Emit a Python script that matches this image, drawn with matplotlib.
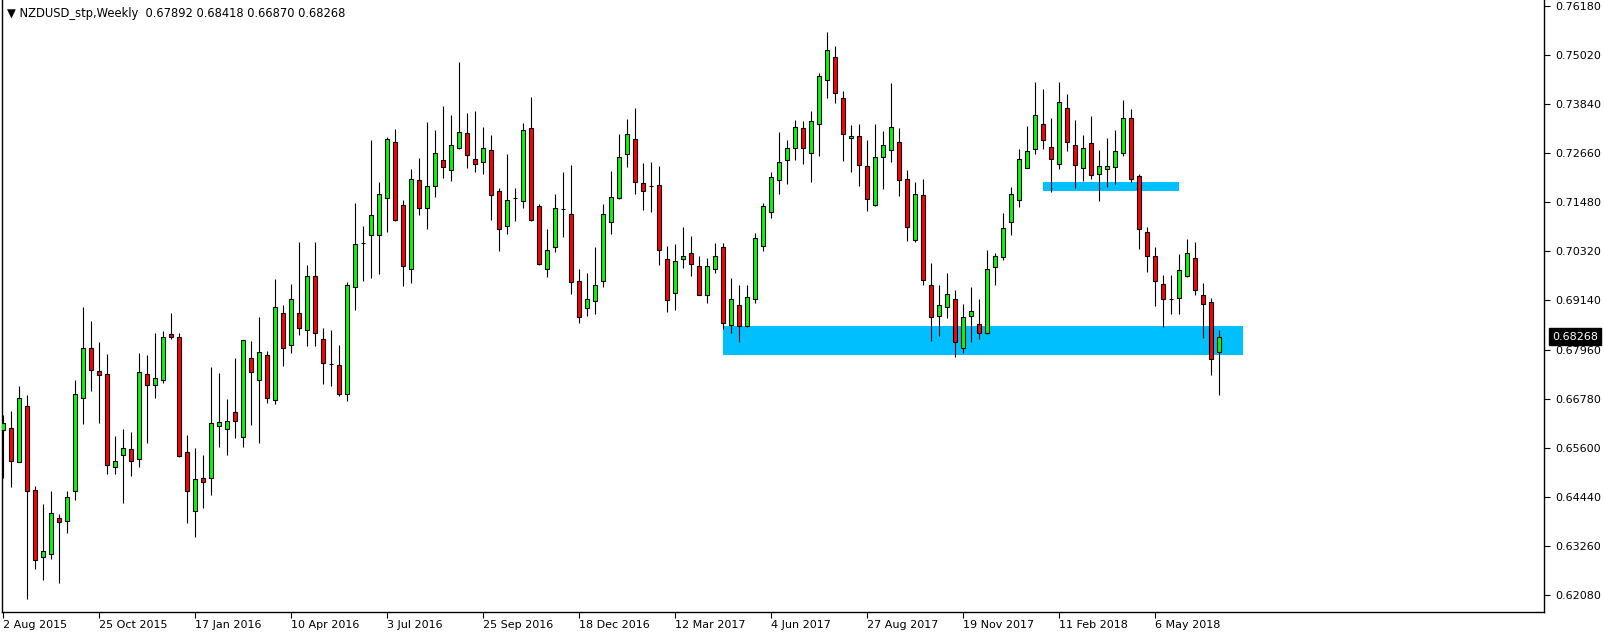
import matplotlib
matplotlib.use('Agg')
import matplotlib.pyplot as plt
import matplotlib.transforms as mtransforms
from matplotlib.patches import Rectangle
import numpy as np

# Dados semanais NZDUSD (abertura, maxima, minima, fechamento), de 2 Aug 2015 em diante
abertura = [
    0.66042, 0.66087, 0.65276, 0.66619, 0.64609, 0.63004, 0.63068, 0.63933, 0.63861, 0.64582,
    0.66790, 0.68007, 0.67457, 0.67385, 0.65150, 0.65447, 0.65591, 0.65348, 0.67385, 0.67123,
    0.67241, 0.68322, 0.68268, 0.65519, 0.64104, 0.64888, 0.64888, 0.66141, 0.66069, 0.66475,
    0.65871, 0.67763, 0.67223, 0.67835, 0.66763, 0.68827, 0.68061, 0.68845, 0.68439, 0.69728,
    0.68223, 0.67619, 0.67601, 0.66907, 0.69449, 0.70512, 0.70711, 0.70693, 0.71576, 0.72919,
    0.71414, 0.69900, 0.72027, 0.71342, 0.71864, 0.72486, 0.72252, 0.72775, 0.73135, 0.72513,
    0.72441, 0.72730, 0.71765, 0.70909, 0.71576, 0.71504, 0.73252, 0.71387, 0.69881, 0.70422,
    0.71315, 0.71215, 0.69611, 0.68944, 0.69133, 0.69593, 0.71008, 0.71576, 0.72630, 0.72991,
    0.71954, 0.71882, 0.71909, 0.70134, 0.69314, 0.70116, 0.70260, 0.69972, 0.69278, 0.69900,
    0.70404, 0.68556, 0.69016, 0.68529, 0.69178, 0.70449, 0.71242, 0.72009, 0.72486, 0.72775,
    0.73252, 0.72675, 0.73351, 0.74406, 0.74956, 0.73991, 0.73018, 0.73081, 0.72342, 0.71432,
    0.72558, 0.72730, 0.72919, 0.72054, 0.70593, 0.71648, 0.69494, 0.68755, 0.68989, 0.69178,
    0.67989, 0.68755, 0.68583, 0.68349, 0.69945, 0.70170, 0.71017, 0.71531, 0.72315, 0.72757,
    0.73369, 0.72820, 0.72396, 0.73730, 0.72865, 0.72297, 0.72892, 0.72153, 0.72270, 0.72324,
    0.72675, 0.73514, 0.72126, 0.70783, 0.70188, 0.69539, 0.69160, 0.69196, 0.69710, 0.70161,
    0.69278, 0.69097, 0.67892,
]
maxima = [
    0.66384, 0.66502, 0.67078, 0.66862, 0.64690, 0.64257, 0.64564, 0.64014, 0.64564, 0.67223,
    0.68971, 0.68638, 0.68133, 0.67844, 0.65880, 0.66051, 0.65979, 0.67871, 0.67826, 0.68349,
    0.68412, 0.68827, 0.68349, 0.65907, 0.65600, 0.65429, 0.67538, 0.67394, 0.66772, 0.67754,
    0.68196, 0.68160, 0.68737, 0.67917, 0.69647, 0.69025, 0.69521, 0.70530, 0.69981, 0.70530,
    0.68466, 0.68421, 0.68061, 0.69584, 0.71468, 0.70918, 0.72973, 0.71963, 0.73045, 0.73234,
    0.71540, 0.72279, 0.72540, 0.73406, 0.73216, 0.73784, 0.73577, 0.74839, 0.73622, 0.73667,
    0.73288, 0.73090, 0.71819, 0.72639, 0.71828, 0.73378, 0.74000, 0.71441, 0.70846, 0.71684,
    0.72207, 0.72378, 0.69881, 0.69791, 0.70413, 0.71441, 0.72234, 0.73117, 0.73478, 0.73739,
    0.72423, 0.72450, 0.72351, 0.70431, 0.70485, 0.70891, 0.70675, 0.70206, 0.70143, 0.70503,
    0.70503, 0.69665, 0.69503, 0.69503, 0.70747, 0.71459, 0.72198, 0.73162, 0.72964, 0.73451,
    0.73433, 0.73667, 0.74577, 0.75560, 0.75226, 0.74145, 0.73333, 0.73360, 0.72973, 0.73360,
    0.73189, 0.74343, 0.73261, 0.72252, 0.71963, 0.72036, 0.70026, 0.69503, 0.69791, 0.69377,
    0.69043, 0.69449, 0.69169, 0.70341, 0.70260, 0.71224, 0.71846, 0.72757, 0.73306, 0.74361,
    0.74199, 0.73505, 0.74361, 0.74072, 0.73451, 0.73090, 0.73550, 0.72739, 0.73018, 0.73216,
    0.73928, 0.73712, 0.72171, 0.70891, 0.70413, 0.69737, 0.69737, 0.70242, 0.70602, 0.70530,
    0.69548, 0.69205, 0.68418,
]
minima = [
    0.64897, 0.64672, 0.65260, 0.61995, 0.62716, 0.62446, 0.62959, 0.62374, 0.63572, 0.64356,
    0.66177, 0.66970, 0.66204, 0.64978, 0.64978, 0.64284, 0.64924, 0.65150, 0.65726, 0.66799,
    0.67159, 0.68223, 0.65393, 0.63807, 0.63473, 0.64167, 0.64483, 0.65627, 0.65438, 0.65844,
    0.65627, 0.66159, 0.65726, 0.66682, 0.66655, 0.67565, 0.67880, 0.68313, 0.68052, 0.68052,
    0.67141, 0.67087, 0.66853, 0.66727, 0.68908, 0.69602, 0.69665, 0.69773, 0.70783, 0.71044,
    0.69485, 0.69557, 0.71188, 0.70855, 0.71621, 0.72072, 0.72000, 0.72765, 0.72315, 0.72216,
    0.72171, 0.71062, 0.70323, 0.70729, 0.71044, 0.71350, 0.71040, 0.69990, 0.69701, 0.70296,
    0.70657, 0.69296, 0.68601, 0.68764, 0.68818, 0.69458, 0.70729, 0.71566, 0.72333, 0.71684,
    0.71297, 0.71251, 0.69981, 0.68854, 0.68908, 0.69917, 0.69719, 0.69270, 0.69070, 0.69791,
    0.68448, 0.68349, 0.68133, 0.68502, 0.69079, 0.70323, 0.71116, 0.71693, 0.71927, 0.72504,
    0.72405, 0.71972, 0.72603, 0.73991, 0.73865, 0.72477, 0.72216, 0.71882, 0.71278, 0.71405,
    0.71810, 0.72459, 0.71639, 0.70566, 0.70539, 0.69512, 0.68169, 0.68286, 0.68719, 0.67790,
    0.67880, 0.68142, 0.68214, 0.68340, 0.69512, 0.70098, 0.70711, 0.71378, 0.72306, 0.72648,
    0.72766, 0.71738, 0.72288, 0.72720, 0.71837, 0.72000, 0.72045, 0.71522, 0.71855, 0.71927,
    0.72603, 0.71972, 0.70368, 0.69818, 0.69007, 0.68502, 0.68818, 0.68818, 0.69700, 0.69269,
    0.68241, 0.67358, 0.66870,
]
fechamento = [
    0.66204, 0.65303, 0.66808, 0.64582, 0.62932, 0.63140, 0.64059, 0.63843, 0.64438, 0.66907,
    0.68007, 0.67466, 0.67340, 0.65204, 0.65303, 0.65609, 0.65303, 0.67430, 0.67123, 0.67268,
    0.68250, 0.68250, 0.65420, 0.64582, 0.64870, 0.64798, 0.66213, 0.66231, 0.66258, 0.66258,
    0.68178, 0.67412, 0.67908, 0.66808, 0.68989, 0.68007, 0.69178, 0.68484, 0.69728, 0.68349,
    0.67628, 0.67619, 0.66907, 0.69512, 0.70494, 0.70512, 0.71170, 0.71693, 0.72991, 0.71071,
    0.69972, 0.72054, 0.71360, 0.71882, 0.72657, 0.72324, 0.72847, 0.73162, 0.72612, 0.72396,
    0.72793, 0.71648, 0.70837, 0.71549, 0.71576, 0.73207, 0.71053, 0.69999, 0.70350, 0.71360,
    0.71315, 0.69566, 0.68728, 0.69178, 0.69512, 0.71215, 0.71603, 0.72558, 0.73108, 0.71972,
    0.71765, 0.71882, 0.70350, 0.69151, 0.70089, 0.70206, 0.69999, 0.69278, 0.69972, 0.70206,
    0.68601, 0.69178, 0.68529, 0.69223, 0.70620, 0.71405, 0.72081, 0.72459, 0.72775, 0.73297,
    0.72775, 0.73442, 0.74496, 0.75118, 0.74090, 0.73108, 0.73081, 0.72369, 0.71558, 0.72558,
    0.72865, 0.73279, 0.72009, 0.70882, 0.71693, 0.69629, 0.68728, 0.69034, 0.69296, 0.68151,
    0.68728, 0.68872, 0.68349, 0.69900, 0.70188, 0.70864, 0.71675, 0.72531, 0.72702, 0.73568,
    0.72964, 0.72513, 0.73874, 0.72919, 0.72369, 0.72793, 0.72135, 0.72342, 0.72342, 0.72702,
    0.73496, 0.72054, 0.70837, 0.70206, 0.69611, 0.69178, 0.69160, 0.69854, 0.70278, 0.69386,
    0.69061, 0.67745, 0.68268,
]

# Rotulos de data (um a cada 12 semanas) e niveis do eixo de preco
rotulos_datas = ['2 Aug 2015', '25 Oct 2015', '17 Jan 2016', '10 Apr 2016', '3 Jul 2016',
                 '25 Sep 2016', '18 Dec 2016', '12 Mar 2017', '4 Jun 2017', '27 Aug 2017',
                 '19 Nov 2017', '11 Feb 2018', '6 May 2018']
barras_rotulos = [0, 12, 24, 36, 48, 60, 72, 84, 96, 108, 120, 132, 144]
niveis_preco = [0.76180, 0.75020, 0.73840, 0.72660, 0.71480, 0.70320, 0.69140,
                0.67960, 0.66780, 0.65600, 0.64440, 0.63260, 0.62080]

# Zonas desenhadas (barra inicial, barra final, preco baixo, preco alto)
zona_suporte = (90, 155, 0.67835, 0.68520)
zona_resistencia = (130, 147, 0.71756, 0.71982)

titulo = 'NZDUSD_stp,Weekly  0.67892 0.68418 0.66870 0.68268'


def gerar_grafico_candles():
    """Desenha o grafico de candles semanal no estilo do MetaTrader."""
    W, H = 1604, 637
    fig = plt.figure(figsize=(W / 100, H / 100), dpi=100)
    # area do grafico em pixels: x 2..1544, y 0..612
    ax = fig.add_axes([2 / W, 25 / H, 1542 / W, 612 / H])

    x = np.arange(len(fechamento))
    o = np.array(abertura)
    h = np.array(maxima)
    l = np.array(minima)
    c = np.array(fechamento)

    # Zonas azuis atras dos candles
    for ini, fim, baixo, alto in [zona_suporte, zona_resistencia]:
        ax.add_patch(Rectangle((ini, baixo), fim - ini, alto - baixo,
                               facecolor='#00BFFF', edgecolor='none', zorder=1))

    # Pavios
    ax.vlines(x, l, h, color='black', linewidth=0.8, zorder=2)

    # Corpos: verde se subiu, vermelho se caiu, doji vira so uma linha
    cores = ['#00FF00' if cc > oo else ('#FF0000' if cc < oo else 'none') for oo, cc in zip(o, c)]
    ax.bar(x, np.abs(c - o), bottom=np.minimum(o, c), width=0.5, color=cores,
           edgecolor='black', linewidth=0.8, zorder=3)

    # Limites (8 px por barra, ~4179 px por unidade de preco)
    ax.set_xlim(-0.1625, 192.59)
    ax.set_ylim(0.61680, 0.76326)

    # Eixo de preco a direita
    ax.yaxis.tick_right()
    ax.set_yticks(niveis_preco)
    ax.set_yticklabels([f'{v:.5f}' for v in niveis_preco])
    ax.tick_params(axis='y', direction='out', length=4, width=0.8, pad=4, labelsize=8)

    # Eixo de datas
    ax.set_xticks(barras_rotulos)
    ax.set_xticklabels(rotulos_datas, ha='left')
    ax.tick_params(axis='x', direction='out', length=4, width=0.8, pad=2, labelsize=8)

    for lado in ['left', 'right', 'bottom']:
        ax.spines[lado].set_linewidth(1.0)
    ax.spines['top'].set_visible(False)

    # Caixa do preco atual
    trans = mtransforms.blended_transform_factory(ax.transAxes, ax.transData)
    ax.text(1.0052, c[-1], f'{c[-1]:.5f}', transform=trans, color='white', fontsize=8,
            va='center', ha='left', clip_on=False,
            bbox=dict(boxstyle='square,pad=0.3', facecolor='black', edgecolor='black'))

    # Titulo no canto superior esquerdo
    ax.text(5 / 1542, 1 - 13 / 612, '\u25BC ' + titulo, transform=ax.transAxes,
            fontsize=8.3, va='center', ha='left', color='black')

    fig.savefig('out.png', dpi=100)


if __name__ == "__main__":
    gerar_grafico_candles()
